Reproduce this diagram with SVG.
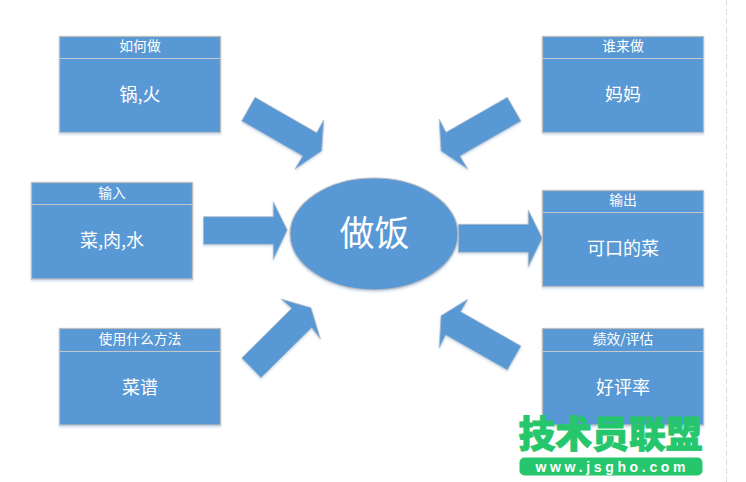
<svg xmlns="http://www.w3.org/2000/svg" width="746" height="482" viewBox="0 0 746 482">
<style>
.shape{fill:#5898d4;stroke:#bdbdbd;stroke-width:1.2;filter:url(#sh)}
.arrow{fill:#5898d4;stroke:#b4bcc6;stroke-width:.8;filter:url(#sh)}
.div{stroke:#c4c8cc;stroke-width:1.2}
text{font-family:"Noto Sans CJK SC","Noto Sans",sans-serif;fill:#fff;text-anchor:middle}
.h{font-size:13.800px}
.b{font-size:18px}
.wm{fill:#25c66c;stroke:#25c66c;stroke-width:.9;font-size:37px;font-weight:900}
.url{font-size:14px;font-weight:700;font-family:"Liberation Sans",sans-serif}
</style>
<defs>
<filter id="sh" x="-10%" y="-10%" width="120%" height="120%">
<feDropShadow dx="0" dy="1.5" stdDeviation="1.2" flood-color="#9dbfe0" flood-opacity=".55"/>
</filter>
</defs>
<rect width="746" height="482" fill="#fff"/>
<line x1="726.5" y1="0" x2="726.5" y2="482" stroke="#dcdcdc" stroke-width="1" stroke-dasharray="6 3"/>
<g id="connectors">
<polygon class="arrow" points="255,97.3 316.7,132.7 323.7,120 321.7,151 295,169 302.7,156 241.7,121"/>
<polygon class="arrow" points="203.5,216.7 273.3,216.7 273.3,201.7 287.3,230 273.3,259.3 273.3,244.3 203.5,244.3"/>
<polygon class="arrow" points="241.7,358 291.7,308.3 281,299 311,307.7 320.3,338.7 311.7,327.7 261,377.7"/>
<polygon class="arrow" points="507.3,97.3 446,132.3 439.3,119.3 441,151 467.7,169 460,156 521,121"/>
<polygon class="arrow" points="458.3,224.3 528.3,224.3 528.3,210 542.3,238.3 528.3,266.7 528.3,252.3 458.3,252.3"/>
<polygon class="arrow" points="521,346 460.7,311.7 467.7,299.3 441,315.7 439.3,347.7 445.7,335 507.3,370"/>
</g>
<g id="node-how">
<rect class="shape" x="59.5" y="36.5" width="161" height="96"/>
<line class="div" x1="59.5" y1="58.5" x2="220.5" y2="58.5"/>
<text class="h" x="140" y="51">如何做</text>
<text class="b" x="140" y="101">锅,火</text>
</g>
<g id="node-input">
<rect class="shape" x="31.5" y="182.5" width="161" height="96.5"/>
<line class="div" x1="31.5" y1="204.5" x2="192.5" y2="204.5"/>
<text class="h" x="112" y="198">输入</text>
<text class="b" x="112" y="247">菜,肉,水</text>
</g>
<g id="node-method">
<rect class="shape" x="59.5" y="328.5" width="161" height="96.5"/>
<line class="div" x1="59.5" y1="351.5" x2="220.5" y2="351.5"/>
<text class="h" x="140" y="344">使用什么方法</text>
<text class="b" x="140" y="394">菜谱</text>
</g>
<g id="node-who">
<rect class="shape" x="542.5" y="36.5" width="161" height="96"/>
<line class="div" x1="542.5" y1="58.5" x2="703.5" y2="58.5"/>
<text class="h" x="623" y="51">谁来做</text>
<text class="b" x="623" y="101">妈妈</text>
</g>
<g id="node-output">
<rect class="shape" x="542.5" y="190.5" width="161" height="96"/>
<line class="div" x1="542.5" y1="212.5" x2="703.5" y2="212.5"/>
<text class="h" x="623" y="205">输出</text>
<text class="b" x="623" y="255">可口的菜</text>
</g>
<g id="node-kpi">
<rect class="shape" x="542.5" y="328.5" width="161" height="96.5"/>
<line class="div" x1="542.5" y1="351.5" x2="703.5" y2="351.5"/>
<text class="h" x="623" y="344">绩效/评估</text>
<text class="b" x="623" y="394">好评率</text>
</g>
<g id="node-center">
<ellipse class="shape" cx="374" cy="234" rx="84" ry="56" stroke-width="1"/>
<text x="374.500" y="246" font-size="35">做饭</text>
</g>
<g id="watermark">
<text class="wm" x="610.500" y="448" textLength="184" lengthAdjust="spacingAndGlyphs">技术员联盟</text>
<rect x="519.500" y="457.500" width="183" height="18" rx="5" fill="#25c66c"/>
<text class="url" x="610.500" y="471.500" textLength="150" lengthAdjust="spacing">www.jsgho.com</text>
</g>
</svg>
